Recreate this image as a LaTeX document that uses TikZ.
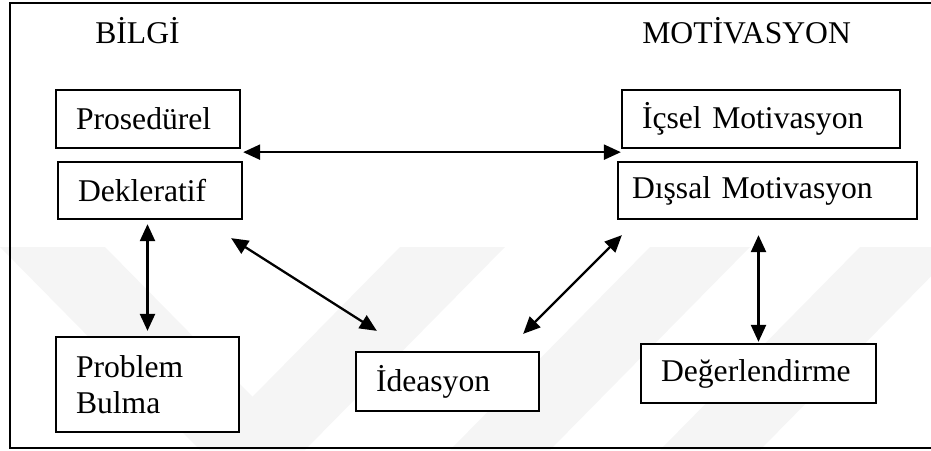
\documentclass[tikz,border=0pt]{standalone}
\usepackage{fontspec}
\setmainfont{Liberation Serif}
\usetikzlibrary{arrows.meta}

\begin{document}
\begin{tikzpicture}[
  kutu/.style={draw, fill=white, line width=1.3pt, align=left, inner xsep=0.4cm, inner ysep=0pt, font=\fontsize{18}{20.5}\selectfont},
  baslik/.style={anchor=base west, inner sep=0pt, font=\fontsize{18}{20.5}\selectfont},
  ok/.style={<->, line width=1.3pt, >={Triangle[length=0.34cm,width=0.3cm]}}
]
\clip (0,0) rectangle (18.62,-9);
% filigran
\fill[gray!8] (0,-4.94) -- (2.1,-4.94) -- (6.1,-9) -- (4,-9) -- cycle;
\fill[gray!8] (8,-4.94) -- (10.1,-4.94) -- (6.1,-9) -- (4,-9) -- cycle;
\fill[gray!8] (13,-4.94) -- (15,-4.94) -- (11,-9) -- (9,-9) -- cycle;
\fill[gray!8] (17.2,-4.94) -- (19.2,-4.94) -- (15.2,-9) -- (13.2,-9) -- cycle;
% cerceve
\draw[line width=1.5pt] (18.8,-0.06) -- (0.2,-0.06) -- (0.2,-8.96) -- (18.8,-8.96);
\node[baslik] (bilgi) at (1.9,-0.86) {BİLGİ};
\node[baslik] (motiv) at (12.84,-0.86) {MOTİVASYON};
\node[kutu, text width=2.88cm, minimum height=1.16cm] (pros) at (2.96,-2.38) {Prosedürel};
\node[kutu, text width=2.88cm, minimum height=1.14cm] (dekl) at (3.0,-3.81) {Dekleratif};
\node[kutu, text width=4.76cm, minimum height=1.16cm] (icsel) at (15.22,-2.38) {İçsel Motivasyon};
\node[kutu, inner xsep=0.28cm, text width=5.42cm, minimum height=1.14cm] (dissal) at (15.35,-3.81) {Dışsal Motivasyon};
\node[kutu, text width=2.86cm, minimum height=1.9cm] (prob) at (2.95,-7.69) {Problem\\Bulma};
\node[kutu, text width=2.86cm, minimum height=1.18cm] (idea) at (8.95,-7.63) {İdeasyon};
\node[kutu, text width=3.9cm, minimum height=1.18cm] (deger) at (15.17,-7.47) {Değerlendirme};
\draw[ok] ([shift={(0.04,-0.06)}]pros.south east) -- ([shift={(0,-0.06)}]icsel.south west);
\draw[ok, shorten <=0.08cm, shorten >=0.1cm] (prob.north |- dekl.south) -- (prob.north);
\draw[ok] ([shift={(-0.24,-0.36)}]dekl.south east) -- ([shift={(0.44,0.4)}]idea.north west);
\draw[ok] ([shift={(-0.34,0.34)}]idea.north east) -- ([shift={(0.1,-0.3)}]dissal.south west);
\draw[ok, shorten <=0.3cm, shorten >=0.02cm] (deger.north |- dissal.south) -- (deger.north);
\end{tikzpicture}
\end{document}
